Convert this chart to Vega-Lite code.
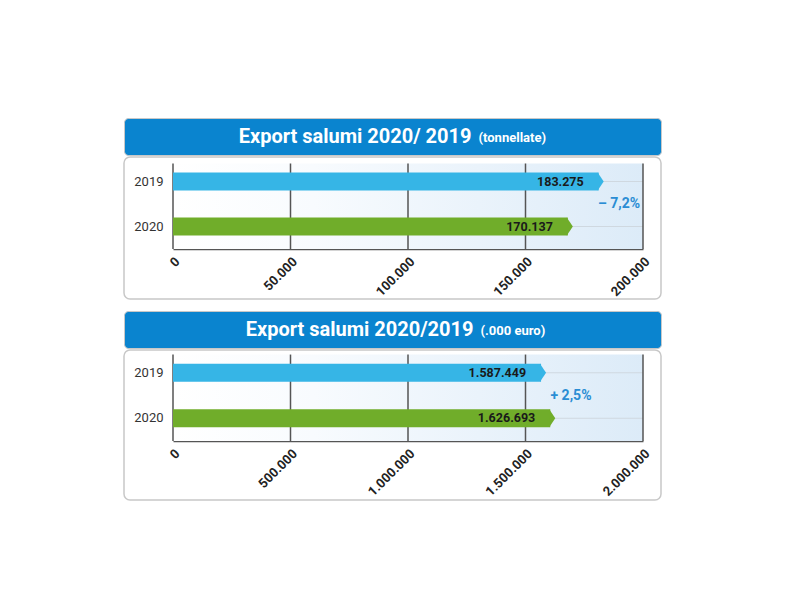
{
  "$schema": "https://vega.github.io/schema/vega-lite/v6.json",
  "background": "white",
  "padding": {"left": 123, "top": 117, "right": 0, "bottom": 0},
  "config": {
    "locale": {"number": {"decimal": ",", "thousands": ".", "grouping": [3], "currency": ["", " €"]}},
    "font": "Roboto",
    "view": {"stroke": null},
    "axisX": {"orient": "bottom", "title": null, "labelExpr": "format(datum.value, ',')", "labelAngle": -45, "labelFontWeight": "bold", "labelFontSize": 13, "labelColor": "#222222", "labelPadding": 6, "labelFlush": false, "labelOverlap": false, "ticks": false, "grid": false, "domain": true, "domainColor": "#555555", "domainWidth": 1.5}
  },
  "datasets": {
    "p1": [{"year": "2019", "value": 183275}, {"year": "2020", "value": 170137}],
    "a1": [{"year": "2020", "x": 189800, "label": "– 7,2%"}],
    "t1": [{"tick": 0}, {"tick": 50000}, {"tick": 100000}, {"tick": 150000}, {"tick": 200000}],
    "p2": [{"year": "2019", "value": 1587449}, {"year": "2020", "value": 1626693}],
    "a2": [{"year": "2020", "x": 1693600, "label": "+ 2,5%"}],
    "t2": [{"tick": 0}, {"tick": 500000}, {"tick": 1000000}, {"tick": 1500000}, {"tick": 2000000}]
  },
  "spacing": 10,
  "vconcat": [
    {
      "spacing": 0,
      "vconcat": [
        {
          "width": 537, "height": 37,
          "view": {"fill": "#0a84cf", "stroke": "#c8c8c8", "cornerRadius": 4},
          "data": {"values": [{"main": "Export salumi 2020/ 2019", "sub": "(tonnellate)"}]},
          "layer": [
            {"mark": {"type": "text", "align": "right", "baseline": "middle", "dx": 79, "fontSize": 20, "fontWeight": "bold", "color": "white"},
             "encoding": {"text": {"field": "main", "type": "nominal"}}},
            {"mark": {"type": "text", "align": "left", "baseline": "middle", "dx": 86, "dy": 1, "fontSize": 13, "fontWeight": "bold", "color": "white"},
             "encoding": {"text": {"field": "sub", "type": "nominal"}}}
          ]
        },
        {
          "width": 537, "height": 142,
          "view": {"fill": "white", "stroke": "#c8c8c8", "strokeWidth": 1.5, "cornerRadius": 6},
          "data": {"name": "p1"},
          "encoding": {
            "y": {"field": "year", "type": "nominal",
                  "scale": {"type": "band", "domain": ["2019", "2020"], "range": [2, 92], "paddingInner": 0, "paddingOuter": 0},
                  "axis": {"orient": "left", "offset": -49, "title": null, "domain": false, "ticks": false, "grid": false, "labelPadding": 10, "labelFontSize": 13, "labelColor": "#333333"}}
          },
          "layer": [
            {
              "data": {"name": "a1"},
              "mark": {"type": "rect", "fill": {"gradient": "linear", "x1": 0, "x2": 1, "y1": 0, "y2": 0, "stops": [{"offset": 0, "color": "#ffffff"}, {"offset": 0.3, "color": "#f8fbfe"}, {"offset": 1, "color": "#dcebf8"}]}},
              "encoding": {
                "x": {"datum": 0, "type": "quantitative", "axis": {"values": [0, 50000, 100000, 150000, 200000], "offset": -50}},
                "x2": {"datum": 200000},
                "y": {"datum": "2019", "type": "nominal", "bandPosition": 0.1},
                "y2": {"datum": "2020", "bandPosition": 1}
              }
            },
            {
              "mark": {"type": "rule", "color": "#cfd8e0", "strokeWidth": 1},
              "encoding": {"x": {"datum": 0, "type": "quantitative", "axis": {"values": [0, 50000, 100000, 150000, 200000], "offset": -50}}, "x2": {"datum": 200000}}
            },
            {
              "data": {"name": "t1"},
              "mark": {"type": "rule", "color": "#555555", "strokeWidth": 1.5},
              "encoding": {
                "x": {"field": "tick", "type": "quantitative",
                      "scale": {"domain": [0, 200000], "range": [49, 519], "nice": false, "zero": true},
                      "axis": {"values": [0, 50000, 100000, 150000, 200000], "offset": -50}},
                "y": {"datum": "2019", "type": "nominal", "bandPosition": 0.1},
                "y2": {"datum": "2020", "bandPosition": 1}
              }
            },
            {
              "mark": {"type": "bar", "height": 18, "xOffset": -5},
              "encoding": {
                "x": {"field": "value", "type": "quantitative", "axis": {"values": [0, 50000, 100000, 150000, 200000], "offset": -50}},
                "x2": {"datum": 0},
                "color": {"field": "year", "type": "nominal", "scale": {"domain": ["2019", "2020"], "range": ["#36b5e6", "#70ad2a"]}, "legend": null}
              }
            },
            {
              "mark": {"type": "point", "shape": "M-0.67,-1L0,0L-0.67,1Z", "size": 324, "filled": true, "opacity": 1, "strokeWidth": 0},
              "encoding": {
                "x": {"field": "value", "type": "quantitative", "axis": {"values": [0, 50000, 100000, 150000, 200000], "offset": -50}},
                "color": {"field": "year", "type": "nominal", "legend": null}
              }
            },
            {
              "mark": {"type": "text", "align": "right", "baseline": "middle", "dx": -20, "fontSize": 12.5, "fontWeight": "bold", "color": "#1a1a1a"},
              "encoding": {
                "x": {"field": "value", "type": "quantitative", "axis": {"values": [0, 50000, 100000, 150000, 200000], "offset": -50}},
                "text": {"field": "value", "type": "quantitative", "format": ","}
              }
            },
            {
              "data": {"name": "a1"},
              "mark": {"type": "text", "align": "center", "baseline": "middle", "fontSize": 14, "fontWeight": "bold", "color": "#2a8dd4"},
              "encoding": {
                "x": {"field": "x", "type": "quantitative", "axis": {"values": [0, 50000, 100000, 150000, 200000], "offset": -50}},
                "y": {"field": "year", "type": "nominal", "bandPosition": 0},
                "text": {"field": "label", "type": "nominal"}
              }
            }
          ]
        }
      ]
    },
    {
      "spacing": 0,
      "vconcat": [
        {
          "width": 537, "height": 37,
          "view": {"fill": "#0a84cf", "stroke": "#c8c8c8", "cornerRadius": 4},
          "data": {"values": [{"main": "Export salumi 2020/2019", "sub": "(.000 euro)"}]},
          "layer": [
            {"mark": {"type": "text", "align": "right", "baseline": "middle", "dx": 81, "fontSize": 20, "fontWeight": "bold", "color": "white"},
             "encoding": {"text": {"field": "main", "type": "nominal"}}},
            {"mark": {"type": "text", "align": "left", "baseline": "middle", "dx": 88, "dy": 1, "fontSize": 13, "fontWeight": "bold", "color": "white"},
             "encoding": {"text": {"field": "sub", "type": "nominal"}}}
          ]
        },
        {
          "width": 537, "height": 150,
          "view": {"fill": "white", "stroke": "#c8c8c8", "strokeWidth": 1.5, "cornerRadius": 6},
          "data": {"name": "p2"},
          "encoding": {
            "y": {"field": "year", "type": "nominal",
                  "scale": {"type": "band", "domain": ["2019", "2020"], "range": [0, 91], "paddingInner": 0, "paddingOuter": 0},
                  "axis": {"orient": "left", "offset": -49, "title": null, "domain": false, "ticks": false, "grid": false, "labelPadding": 10, "labelFontSize": 13, "labelColor": "#333333"}}
          },
          "layer": [
            {
              "data": {"name": "a2"},
              "mark": {"type": "rect", "fill": {"gradient": "linear", "x1": 0, "x2": 1, "y1": 0, "y2": 0, "stops": [{"offset": 0, "color": "#ffffff"}, {"offset": 0.3, "color": "#f8fbfe"}, {"offset": 1, "color": "#dcebf8"}]}},
              "encoding": {
                "x": {"datum": 0, "type": "quantitative", "axis": {"values": [0, 500000, 1000000, 1500000, 2000000], "offset": -59}},
                "x2": {"datum": 2000000},
                "y": {"datum": "2019", "type": "nominal", "bandPosition": 0.1},
                "y2": {"datum": "2020", "bandPosition": 1}
              }
            },
            {
              "mark": {"type": "rule", "color": "#cfd8e0", "strokeWidth": 1},
              "encoding": {"x": {"datum": 0, "type": "quantitative", "axis": {"values": [0, 500000, 1000000, 1500000, 2000000], "offset": -59}}, "x2": {"datum": 2000000}}
            },
            {
              "data": {"name": "t2"},
              "mark": {"type": "rule", "color": "#555555", "strokeWidth": 1.5},
              "encoding": {
                "x": {"field": "tick", "type": "quantitative",
                      "scale": {"domain": [0, 2000000], "range": [49, 519], "nice": false, "zero": true},
                      "axis": {"values": [0, 500000, 1000000, 1500000, 2000000], "offset": -59}},
                "y": {"datum": "2019", "type": "nominal", "bandPosition": 0.1},
                "y2": {"datum": "2020", "bandPosition": 1}
              }
            },
            {
              "mark": {"type": "bar", "height": 18, "xOffset": -5},
              "encoding": {
                "x": {"field": "value", "type": "quantitative", "axis": {"values": [0, 500000, 1000000, 1500000, 2000000], "offset": -59}},
                "x2": {"datum": 0},
                "color": {"field": "year", "type": "nominal", "scale": {"domain": ["2019", "2020"], "range": ["#36b5e6", "#70ad2a"]}, "legend": null}
              }
            },
            {
              "mark": {"type": "point", "shape": "M-0.67,-1L0,0L-0.67,1Z", "size": 324, "filled": true, "opacity": 1, "strokeWidth": 0},
              "encoding": {
                "x": {"field": "value", "type": "quantitative", "axis": {"values": [0, 500000, 1000000, 1500000, 2000000], "offset": -59}},
                "color": {"field": "year", "type": "nominal", "legend": null}
              }
            },
            {
              "mark": {"type": "text", "align": "right", "baseline": "middle", "dx": -20, "fontSize": 12.5, "fontWeight": "bold", "color": "#1a1a1a"},
              "encoding": {
                "x": {"field": "value", "type": "quantitative", "axis": {"values": [0, 500000, 1000000, 1500000, 2000000], "offset": -59}},
                "text": {"field": "value", "type": "quantitative", "format": ","}
              }
            },
            {
              "data": {"name": "a2"},
              "mark": {"type": "text", "align": "center", "baseline": "middle", "fontSize": 14, "fontWeight": "bold", "color": "#2a8dd4"},
              "encoding": {
                "x": {"field": "x", "type": "quantitative", "axis": {"values": [0, 500000, 1000000, 1500000, 2000000], "offset": -59}},
                "y": {"field": "year", "type": "nominal", "bandPosition": 0},
                "text": {"field": "label", "type": "nominal"}
              }
            }
          ]
        }
      ]
    }
  ]
}
